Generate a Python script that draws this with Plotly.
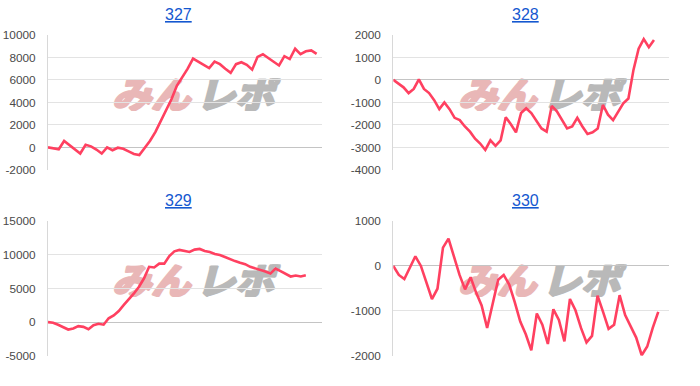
import base64
import plotly.graph_objects as go

# ---- data ----
titles = ["327", "328", "329", "330"]

s327 = [0, -80, -171, 571, 190, -190, -543, 229, 90, -191, -543, 0, -257, -29, -130,
        -350, -580, -686, -100, 590, 1380, 2400, 3300, 4300, 5500, 6200, 7000, 7900, 7600,
        7350, 7057, 7629, 7400, 7000, 6629, 7400, 7571, 7343, 6914, 8050, 8286, 7950, 7600,
        7286, 8114, 7857, 8771, 8300, 8543, 8629, 8314]
s328 = [0, -150, -330, -586, -400, 29, -400, -586, -900, -1300, -1000, -1300, -1686, -1786,
        -2071, -2300, -2614, -2829, -3114, -2686, -2929, -2686, -1657, -1971, -2329, -1471,
        -1257, -1471, -1829, -2157, -2300, -1157, -1400, -1757, -2157, -2071, -1686, -2071,
        -2400, -2329, -2157, -1114, -1543, -1786, -1400, -1043, -829, 457, 1386, 1814, 1457, 1771]
s329 = [0, -100, -380, -740, -1095, -950, -600, -700, -1050, -450, -250, -380, 571, 1000,
        1650, 2550, 3350, 4250, 5250, 6500, 8200, 8100, 8667, 8667, 9800, 10500, 10700, 10600,
        10400, 10750, 10850, 10550, 10400, 10100, 9950, 9650, 9300, 9050, 8800, 8600, 8200,
        8000, 7800, 7500, 7200, 7950, 7550, 7150, 6762, 6905, 6762, 6952]
s330 = [0, -200, -293, -57, 214, 0, -379, -736, -507, 407, 607, 193, -200, -521, -250, -593,
        -879, -1379, -807, -307, -200, -414, -807, -1236, -1521, -1879, -1057, -1307, -1736,
        -964, -1200, -1679, -736, -986, -1379, -1700, -1557, -664, -1021, -1400, -1307, -650,
        -1093, -1329, -1593, -1986, -1793, -1379, -1021]
series = [s327, s328, s329, s330]

ticks327 = [-2000, 0, 2000, 4000, 6000, 8000, 10000]
ticks328 = [-4000, -3000, -2000, -1000, 0, 1000, 2000]
ticks329 = [-5000, 0, 5000, 10000, 15000]
ticks330 = [-2000, -1000, 0, 1000]
tick_sets = [ticks327, ticks328, ticks329, ticks330]

# ---- layout geometry (pixels) ----
W, H = 700, 386
xr = [51, 54, 54.2, 50]
x_dom_px = [(48, 322), (393.3, 669.3), (48, 322), (393.3, 669.3)]
y_dom_px = [(29, 169), (29, 169), (222, 362), (222, 362)]
title_pos = [(178, 12), (525, 12), (178, 205), (525, 205)]
wm_pos = [(112, 74), (458, 74), (112, 267), (458, 267)]

LINE = "#ff4060"

svg = ('<svg xmlns="http://www.w3.org/2000/svg" width="170" height="34" viewBox="0 0 170 34">'
       '<g transform="skewX(-14) translate(8,0)">'
       '<text x="0" y="31" font-family="Noto Sans CJK JP" font-weight="bold" font-size="37" '
       'fill="#e9b7b7" stroke="#e9b7b7" stroke-width="3" stroke-linejoin="round" '
       'textLength="78" lengthAdjust="spacingAndGlyphs">みん</text>'
       '<text x="84" y="31" font-family="Noto Sans CJK JP" font-weight="bold" font-size="37" '
       'fill="#b9b9b9" stroke="#b9b9b9" stroke-width="3" stroke-linejoin="round" '
       'textLength="78" lengthAdjust="spacingAndGlyphs">レポ</text>'
       '</g></svg>')
wm_src = "data:image/svg+xml;base64," + base64.b64encode(svg.encode("utf-8")).decode()

fig = go.Figure()
annotations = []
images = []
for i in range(4):
    n = "" if i == 0 else str(i + 1)
    ys = series[i]
    fig.add_trace(go.Scatter(x=list(range(len(ys))), y=ys, mode="lines",
                             line=dict(color=LINE, width=2.6),
                             xaxis="x" + n, yaxis="y" + n, showlegend=False,
                             hoverinfo="skip"))
    x0, x1 = x_dom_px[i]
    y0, y1 = y_dom_px[i]
    tv = tick_sets[i]
    fig.update_layout(**{
        "xaxis" + n: dict(domain=[x0 / W, x1 / W], range=[0, xr[i]], showgrid=False,
                          showticklabels=False, zeroline=False, showline=False,
                          anchor="y" + n, fixedrange=True),
        "yaxis" + n: dict(domain=[(H - y1) / H, (H - y0) / H], range=[tv[0], tv[-1]],
                          tickvals=tv, ticktext=[str(v) for v in tv],
                          showgrid=True, gridcolor="#e3e3e3", gridwidth=1,
                          zeroline=True, zerolinecolor="#c4c4c4", zerolinewidth=1.3,
                          showline=True, linecolor="#d8d8d8", linewidth=1,
                          ticks="outside", ticklen=9, tickcolor="rgba(0,0,0,0)",
                          tickfont=dict(family="Arial, Liberation Sans", size=11.8, color="#4a4a4a"),
                          anchor="x" + n, fixedrange=True),
    })
    tx, ty = title_pos[i]
    annotations.append(dict(text="<u>" + titles[i] + "</u>", x=tx / W, y=(H - ty + 4) / H,
                            xref="paper", yref="paper", showarrow=False,
                            xanchor="center", yanchor="middle",
                            font=dict(family="Arial, Liberation Sans", size=16, color="#1558d0")))
    wx, wy = wm_pos[i]
    images.append(dict(source=wm_src, xref="paper", yref="paper", x=wx / W, y=(H - wy) / H,
                       sizex=170 / W, sizey=34 / H, xanchor="left", yanchor="top",
                       sizing="stretch", layer="below"))

fig.update_layout(width=W, height=H, margin=dict(l=0, r=0, t=0, b=0),
                  paper_bgcolor="white", plot_bgcolor="rgba(0,0,0,0)",
                  annotations=annotations, images=images)

fig.write_html("out.html")
